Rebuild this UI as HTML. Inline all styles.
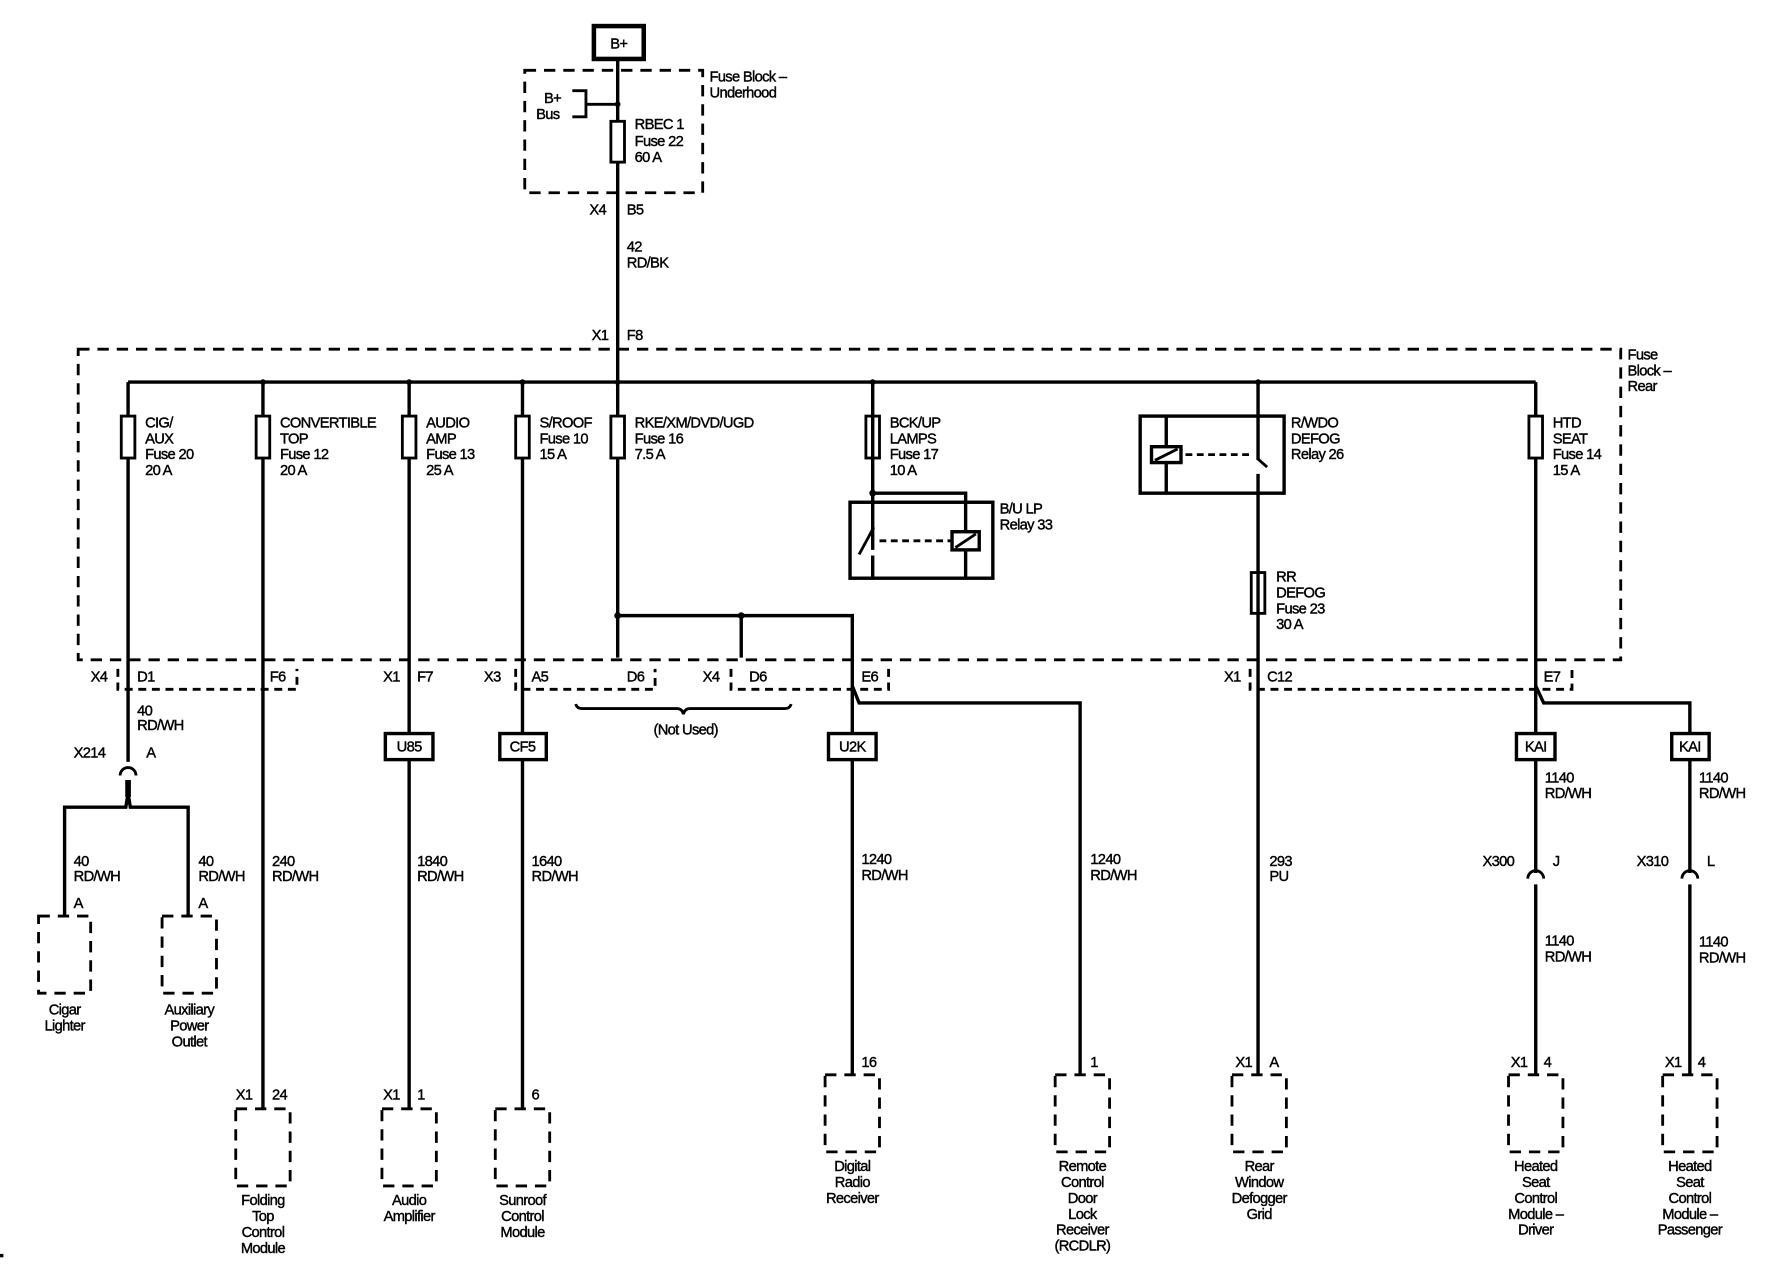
<!DOCTYPE html>
<html><head><meta charset="utf-8"><style>
html,body{margin:0;padding:0;background:#fff;}
svg{display:block;}
text{font-family:"Liberation Sans",sans-serif;font-size:13px;fill:#000;stroke:#000;stroke-width:0.35;letter-spacing:-0.6px;}
.w{stroke:#000;stroke-width:3;fill:none;}
.t{stroke:#000;stroke-width:2.5;fill:none;}
.d{stroke:#000;stroke-width:2.5;fill:none;stroke-dasharray:10 7;}
.s{stroke:#000;stroke-width:2.5;fill:none;stroke-dasharray:7 5;}
.c{text-anchor:middle;}
</style></head><body>
<svg width="1776" height="1280" viewBox="0 0 1567 1129" preserveAspectRatio="none" xmlns="http://www.w3.org/2000/svg">
<rect x="0" y="0" width="1567" height="1129" fill="#fff" stroke="none"/>
<rect x="524" y="23" width="44" height="29" fill="#fff" stroke="#000" stroke-width="4"/>
<text x="546" y="43" class="c">B+</text>
<path class="w" d="M545 52 V580"/>
<path class="d" d="M463 62 H620 V170 H463 Z"/>
<text x="626" y="72">Fuse Block –</text><text x="626" y="86">Underhood</text>
<path class="t" d="M505 80 H517 V103 H505 M517 92 H545"/>
<circle cx="545" cy="92" r="2.5"/>
<text x="480" y="91">B+</text><text x="473" y="105">Bus</text>
<rect x="539" y="107" width="12" height="36" fill="#fff" stroke="#000" stroke-width="2.5"/>
<text x="560" y="114">RBEC 1</text><text x="560" y="129">Fuse 22</text><text x="560" y="143">60 A</text>
<text x="520" y="189">X4</text><text x="553" y="189">B5</text>
<text x="553" y="222">42</text><text x="553" y="236">RD/BK</text>
<text x="522" y="300">X1</text><text x="553" y="300">F8</text>
<path class="d" d="M69 308 H1430 V582 H69 Z"/>
<text x="1436" y="317">Fuse</text><text x="1436" y="331">Block –</text><text x="1436" y="345">Rear</text>
<path class="w" d="M113 337 H1355"/>
<g>
<circle cx="232" cy="337" r="2.5"/><circle cx="361" cy="337" r="2.5"/><circle cx="461" cy="337" r="2.5"/><circle cx="545" cy="337" r="2.5"/><circle cx="770" cy="337" r="2.5"/><circle cx="1110" cy="337" r="2.5"/>
</g>
<path class="w" d="M113 337 V672 M232 337 V978 M361 337 V978 M461 337 V978 M1355 337 V605 L1362 620 H1491 V770 M1355 605 V770 M1355 780 V948 M1491 780 V948"/>
<g fill="#fff" stroke="#000" stroke-width="2.5">
<rect x="107" y="367" width="12" height="37"/><rect x="226" y="367" width="12" height="37"/><rect x="355" y="367" width="12" height="37"/><rect x="455" y="367" width="12" height="37"/><rect x="539" y="367" width="12" height="37"/><rect x="764" y="367" width="12" height="37"/><rect x="1349" y="367" width="12" height="37"/><rect x="1104" y="505" width="12" height="36"/>
</g>
<text x="128" y="377">CIG/</text><text x="128" y="391">AUX</text><text x="128" y="405">Fuse 20</text><text x="128" y="419">20 A</text>
<text x="247" y="377">CONVERTIBLE</text><text x="247" y="391">TOP</text><text x="247" y="405">Fuse 12</text><text x="247" y="419">20 A</text>
<text x="376" y="377">AUDIO</text><text x="376" y="391">AMP</text><text x="376" y="405">Fuse 13</text><text x="376" y="419">25 A</text>
<text x="476" y="377">S/ROOF</text><text x="476" y="391">Fuse 10</text><text x="476" y="405">15 A</text>
<text x="560" y="377">RKE/XM/DVD/UGD</text><text x="560" y="391">Fuse 16</text><text x="560" y="405">7.5 A</text>
<text x="785" y="377">BCK/UP</text><text x="785" y="391">LAMPS</text><text x="785" y="405">Fuse 17</text><text x="785" y="419">10 A</text>
<text x="1370" y="377">HTD</text><text x="1370" y="391">SEAT</text><text x="1370" y="405">Fuse 14</text><text x="1370" y="419">15 A</text>
<path class="w" d="M770 337 V485 M770 435 H852 V510"/>
<circle cx="770" cy="435" r="3"/>
<rect x="750" y="443" width="126" height="67" fill="none" stroke="#000" stroke-width="3"/>
<path class="t" d="M758 489 L771 465"/>
<path class="w" d="M770 490 V510"/>
<path class="t" d="M776 477 H840" stroke-dasharray="6 4"/>
<rect x="840" y="469" width="24" height="16" fill="#fff" stroke="#000" stroke-width="3"/>
<path class="t" d="M843 483 L861 471"/>
<text x="882" y="453">B/U LP</text><text x="882" y="467">Relay 33</text>
<rect x="1006" y="367" width="127" height="68" fill="none" stroke="#000" stroke-width="3"/>
<path class="w" d="M1110 337 V405 M1110 418 V948 M1029 367 V435"/>
<path class="t" d="M1109 404 L1118 412"/>
<path class="t" d="M1046 401 H1104" stroke-dasharray="6 4"/>
<rect x="1016" y="394" width="26" height="14" fill="#fff" stroke="#000" stroke-width="3"/>
<path class="t" d="M1019 406 L1039 396"/>
<text x="1139" y="377">R/WDO</text><text x="1139" y="391">DEFOG</text><text x="1139" y="405">Relay 26</text>
<text x="1126" y="513">RR</text><text x="1126" y="527">DEFOG</text><text x="1126" y="541">Fuse 23</text><text x="1126" y="555">30 A</text>
<path class="w" d="M545 543 H752 V948 M654 543 V580 M752 605 L758 620 H953 V948"/>
<circle cx="545" cy="543" r="3"/><circle cx="654" cy="543" r="3"/>
<path class="s" d="M104 590 V608 H262 V590 M455 590 V608 H578 V590 M645 590 V608 H784 V590 M1103 590 V608 H1387 V590"/>
<text x="80" y="601">X4</text><text x="121" y="601">D1</text><text x="238" y="601">F6</text>
<text x="338" y="601">X1</text><text x="368" y="601">F7</text>
<text x="427" y="601">X3</text><text x="469" y="601">A5</text><text x="553" y="601">D6</text>
<text x="620" y="601">X4</text><text x="661" y="601">D6</text><text x="760" y="601">E6</text>
<text x="1080" y="601">X1</text><text x="1118" y="601">C12</text><text x="1362" y="601">E7</text>
<path class="t" d="M508 621 Q509 625 514 625 H597 Q602 625 603 630 Q604 625 609 625 H692 Q697 625 698 621" stroke-width="2"/>
<text x="605" y="648" class="c">(Not Used)</text>
<g fill="#fff" stroke="#000" stroke-width="3">
<rect x="340" y="647" width="42" height="23"/><rect x="441" y="647" width="41" height="23"/><rect x="731" y="647" width="42" height="23"/><rect x="1338" y="647" width="34" height="23"/><rect x="1475" y="647" width="33" height="23"/>
</g>
<text x="361" y="663" class="c">U85</text><text x="461" y="663" class="c">CF5</text><text x="752" y="663" class="c">U2K</text><text x="1355" y="663" class="c">KAI</text><text x="1491" y="663" class="c">KAI</text>
<text x="121" y="631">40</text><text x="121" y="644">RD/WH</text>
<text x="65" y="668">X214</text><text x="129" y="668">A</text>
<path class="t" d="M106 684 A7 7 0 0 1 120 684" stroke-width="3"/>
<path d="M113 688 V703" stroke="#000" stroke-width="5"/>
<path class="w" d="M57 808 V712 H111 L113 700 L115 712 H166 V808"/>
<text x="65" y="764">40</text><text x="65" y="777">RD/WH</text>
<text x="175" y="764">40</text><text x="175" y="777">RD/WH</text>
<text x="65" y="801">A</text><text x="175" y="801">A</text>
<text x="240" y="764">240</text><text x="240" y="777">RD/WH</text>
<text x="368" y="764">1840</text><text x="368" y="777">RD/WH</text>
<text x="469" y="764">1640</text><text x="469" y="777">RD/WH</text>
<text x="760" y="762">1240</text><text x="760" y="776">RD/WH</text>
<text x="962" y="762">1240</text><text x="962" y="776">RD/WH</text>
<text x="1120" y="764">293</text><text x="1120" y="777">PU</text>
<text x="1363" y="690">1140</text><text x="1363" y="704">RD/WH</text>
<text x="1499" y="690">1140</text><text x="1499" y="704">RD/WH</text>
<text x="1363" y="834">1140</text><text x="1363" y="848">RD/WH</text>
<text x="1499" y="835">1140</text><text x="1499" y="849">RD/WH</text>
<text x="1308" y="764">X300</text><text x="1370" y="764">J</text>
<text x="1444" y="764">X310</text><text x="1506" y="764">L</text>
<path class="t" d="M1348 775 A7 7 0 0 1 1362 775 M1484 775 A7 7 0 0 1 1498 775" stroke-width="3"/>
<g>
<rect x="34" y="808" width="46" height="68" class="d" stroke-dasharray="9 8"/>
<rect x="143" y="808" width="48" height="68" class="d" stroke-dasharray="9 8"/>
<rect x="208" y="978" width="48" height="68" class="d" stroke-dasharray="9 8"/>
<rect x="337" y="978" width="48" height="68" class="d" stroke-dasharray="9 8"/>
<rect x="437" y="978" width="48" height="68" class="d" stroke-dasharray="9 8"/>
<rect x="728" y="948" width="48" height="68" class="d" stroke-dasharray="9 8"/>
<rect x="931" y="948" width="48" height="68" class="d" stroke-dasharray="9 8"/>
<rect x="1087" y="948" width="48" height="68" class="d" stroke-dasharray="9 8"/>
<rect x="1331" y="948" width="48" height="68" class="d" stroke-dasharray="9 8"/>
<rect x="1467" y="948" width="48" height="68" class="d" stroke-dasharray="9 8"/>
</g>
<text x="208" y="970">X1</text><text x="240" y="970">24</text>
<text x="338" y="970">X1</text><text x="368" y="970">1</text>
<text x="469" y="970">6</text>
<text x="760" y="941">16</text>
<text x="962" y="941">1</text>
<text x="1090" y="941">X1</text><text x="1120" y="941">A</text>
<text x="1333" y="941">X1</text><text x="1362" y="941">4</text>
<text x="1469" y="941">X1</text><text x="1498" y="941">4</text>
<g>
<text x="57" y="895" class="c">Cigar</text><text x="57" y="909" class="c">Lighter</text>
<text x="167" y="895" class="c">Auxiliary</text><text x="167" y="909" class="c">Power</text><text x="167" y="923" class="c">Outlet</text>
<text x="232" y="1063" class="c">Folding</text><text x="232" y="1077" class="c">Top</text><text x="232" y="1091" class="c">Control</text><text x="232" y="1105" class="c">Module</text>
<text x="361" y="1063" class="c">Audio</text><text x="361" y="1077" class="c">Amplifier</text>
<text x="461" y="1063" class="c">Sunroof</text><text x="461" y="1077" class="c">Control</text><text x="461" y="1091" class="c">Module</text>
<text x="752" y="1033" class="c">Digital</text><text x="752" y="1047" class="c">Radio</text><text x="752" y="1061" class="c">Receiver</text>
<text x="955" y="1033" class="c">Remote</text><text x="955" y="1047" class="c">Control</text><text x="955" y="1061" class="c">Door</text><text x="955" y="1075" class="c">Lock</text><text x="955" y="1089" class="c">Receiver</text><text x="955" y="1103" class="c">(RCDLR)</text>
<text x="1111" y="1033" class="c">Rear</text><text x="1111" y="1047" class="c">Window</text><text x="1111" y="1061" class="c">Defogger</text><text x="1111" y="1075" class="c">Grid</text>
<text x="1355" y="1033" class="c">Heated</text><text x="1355" y="1047" class="c">Seat</text><text x="1355" y="1061" class="c">Control</text><text x="1355" y="1075" class="c">Module –</text><text x="1355" y="1089" class="c">Driver</text>
<text x="1491" y="1033" class="c">Heated</text><text x="1491" y="1047" class="c">Seat</text><text x="1491" y="1061" class="c">Control</text><text x="1491" y="1075" class="c">Module –</text><text x="1491" y="1089" class="c">Passenger</text>
</g>
<rect x="0" y="1106" width="3" height="3" fill="#000"/>
</svg>
</body></html>
